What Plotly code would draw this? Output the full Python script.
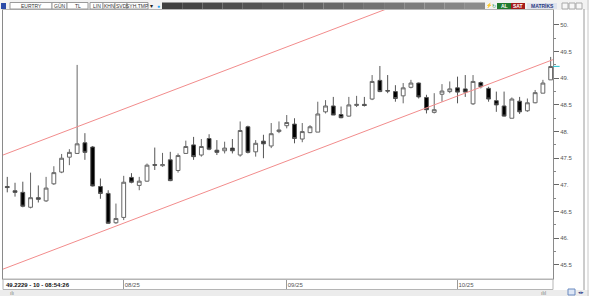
import plotly.graph_objects as go
import pandas as pd

# ---------------- data ----------------
dates = [d.strftime("%Y-%m-%d") for d in pd.bdate_range("2025-07-11", "2025-10-17")]
opens = [46.97, 46.89, 46.86, 46.58, 46.76, 46.70, 47.02, 47.24, 47.52, 47.59,
         47.79, 47.71, 46.97, 46.84, 46.29, 46.39, 47.14, 46.99, 47.07, 47.38,
         47.36, 47.47, 47.27, 47.59, 47.75, 47.56, 47.87, 47.65, 47.64, 47.69,
         47.56, 48.09, 47.62, 47.82, 47.73, 48.00, 48.11, 48.14, 47.86, 47.98,
         47.99, 48.37, 48.48, 48.32, 48.29, 48.49, 48.51, 48.61, 48.96, 48.77,
         48.75, 48.67, 48.83, 48.91, 48.64, 48.36, 48.70, 48.75, 48.82, 48.80,
         48.52, 48.92, 48.81, 48.58, 48.48, 48.25, 48.57, 48.39, 48.54, 48.72,
         48.97]
highs = [47.15, 47.04, 47.06, 47.23, 46.99, 47.15, 47.35, 47.58, 47.67, 49.25,
         47.97, 47.73, 47.12, 46.90, 46.65, 47.17, 47.22, 47.15, 47.40, 47.70,
         47.60, 47.62, 47.59, 47.83, 47.90, 47.86, 47.95, 47.84, 47.81, 47.86,
         48.19, 48.11, 47.84, 47.94, 48.16, 48.19, 48.31, 48.25, 48.16, 48.12,
         48.56, 48.59, 48.65, 48.47, 48.65, 48.67, 48.65, 49.06, 49.23, 49.06,
         48.87, 48.91, 48.97, 48.92, 48.69, 48.72, 48.89, 48.94, 49.03, 49.06,
         49.06, 48.94, 48.84, 48.75, 48.75, 48.64, 48.65, 48.62, 48.78, 48.97,
         49.40]
lows = [46.86, 46.78, 46.58, 46.56, 46.67, 46.68, 47.00, 47.22, 47.37, 47.58,
        47.47, 46.97, 46.74, 46.27, 46.27, 46.34, 47.03, 46.90, 47.06, 47.28,
        47.34, 47.07, 47.23, 47.59, 47.47, 47.53, 47.65, 47.56, 47.59, 47.59,
        47.53, 47.59, 47.53, 47.50, 47.69, 47.97, 48.06, 47.78, 47.80, 47.97,
        47.99, 48.34, 48.31, 48.25, 48.28, 48.46, 48.47, 48.59, 48.74, 48.72,
        48.56, 48.53, 48.81, 48.62, 48.34, 48.34, 48.56, 48.72, 48.53, 48.65,
        48.50, 48.81, 48.56, 48.37, 48.28, 48.25, 48.33, 48.37, 48.53, 48.72,
        48.97]
closes = [46.95, 46.86, 46.60, 46.76, 46.73, 46.94, 47.23, 47.50, 47.61, 47.77,
          47.61, 46.98, 46.84, 46.28, 46.37, 47.05, 47.05, 47.07, 47.37, 47.37,
          47.38, 47.08, 47.55, 47.72, 47.53, 47.72, 47.67, 47.61, 47.69, 47.64,
          48.02, 47.61, 47.78, 47.77, 47.96, 48.03, 48.17, 47.87, 48.00, 48.09,
          48.33, 48.48, 48.31, 48.26, 48.50, 48.51, 48.49, 48.94, 48.75, 48.76,
          48.62, 48.82, 48.91, 48.65, 48.41, 48.41, 48.76, 48.80, 48.74, 48.74,
          48.94, 48.84, 48.61, 48.50, 48.29, 48.61, 48.37, 48.54, 48.73, 48.91,
          49.22]

month_starts = ["2025-08-01", "2025-09-01", "2025-10-01"]
month_labels = ["08/25", "09/25", "10/25"]

y_tickvals = [45.5, 46.0, 46.5, 47.0, 47.5, 48.0, 48.5, 49.0, 49.5, 50.0]
y_ticktext = ["45.5", "46.", "46.5", "47.", "47.5", "48.", "48.5", "49.", "49.5", "50."]

# trend channel (index, price) endpoints
channel_x = [-0.55, 70.5]
channel_lower = [45.42, 49.36]
channel_upper = [47.56, 51.50]

last_price = 49.2229
status_text = "49.2229 - 10 - 08:54:26"

toolbar_items = ["EURTRY", "GÜN", "TL", "LIN", "KHN", "SVD", "SYH.TMP"]

# ---------------- figure ----------------
idx = list(range(len(dates)))
W, H = 589, 296
ML, MR, MT, MB = 3, 36, 10, 17
PW, PH = W - ML - MR, H - MT - MB


def px(x):
    return (x - ML) / PW


def py(y):
    return (H - MB - y) / PH


fig = go.Figure()

fig.add_trace(go.Scatter(x=channel_x, y=channel_lower, mode="lines",
                         line=dict(color="#f28c8c", width=1), hoverinfo="skip", showlegend=False))
fig.add_trace(go.Scatter(x=channel_x, y=channel_upper, mode="lines",
                         line=dict(color="#f28c8c", width=1), hoverinfo="skip", showlegend=False))

fig.add_trace(go.Candlestick(
    x=idx, open=opens, high=highs, low=lows, close=closes,
    increasing=dict(line=dict(color="#666666", width=1), fillcolor="#ffffff"),
    decreasing=dict(line=dict(color="#555555", width=1), fillcolor="#000000"),
    whiskerwidth=0, showlegend=False, hoverinfo="skip"))

tickvals_x = [dates.index(d) for d in month_starts]

fig.update_layout(
    width=W, height=H, autosize=False,
    margin=dict(l=ML, r=MR, t=MT, b=MB),
    paper_bgcolor="#ffffff", plot_bgcolor="#ffffff",
    showlegend=False,
    font=dict(family="Arial, Liberation Sans, sans-serif", size=6, color="#555555"),
    xaxis=dict(range=[-0.55, 70.3], rangeslider=dict(visible=False),
               showgrid=False, zeroline=False,
               showline=True, linecolor="#b5b5b5", linewidth=1, mirror=True,
               tickvals=tickvals_x, ticktext=month_labels,
               ticks="outside", ticklen=9, tickcolor="#9a9a9a",
               ticklabelposition="outside right",
               tickfont=dict(size=6, color="#555555")),
    yaxis=dict(range=[45.235, 50.28], side="right",
               showgrid=False, zeroline=False,
               showline=True, linecolor="#8a8a8a", linewidth=1, mirror=True,
               tickvals=y_tickvals, ticktext=y_ticktext,
               ticks="outside", ticklen=5, tickcolor="#666666",
               minor=dict(tickvals=[v + 0.25 for v in y_tickvals if v < 50], ticks="outside", ticklen=2,
                          tickcolor="#888888"),
               tickfont=dict(size=6, color="#555555")),
)

shapes = []
annos = []

# last price marker on axis
shapes.append(dict(type="line", xref="paper", yref="y", x0=1.0, x1=1.012,
                   y0=last_price, y1=last_price, line=dict(color="#22c0d0", width=1)))

# right outer frame line
shapes.append(dict(type="line", xref="paper", yref="paper", x0=px(584), x1=px(584),
                   y0=py(290), y1=py(9), line=dict(color="#9a9a9a", width=1)))
shapes.append(dict(type="line", xref="paper", yref="paper", x0=px(588), x1=px(588),
                   y0=py(296), y1=py(0), line=dict(color="#c8c8c8", width=1)))

# bottom status bar
shapes.append(dict(type="rect", xref="paper", yref="paper", x0=px(3), x1=px(553),
                   y0=py(289.5), y1=py(279), line=dict(color="#b5b5b5", width=1),
                   fillcolor="rgba(0,0,0,0)", layer="below"))
shapes.append(dict(type="rect", xref="paper", yref="paper", x0=px(0), x1=px(589),
                   y0=py(296), y1=py(290), line=dict(width=0), fillcolor="#ececec", layer="below"))
annos.append(dict(xref="paper", yref="paper", x=px(4), y=py(284.5), text="<b>" + status_text + "</b>",
                  showarrow=False, xanchor="left", yanchor="middle",
                  font=dict(size=6, color="#111111")))
annos.append(dict(xref="paper", yref="paper", x=px(8), y=py(293), text="ılı",
                  showarrow=False, xanchor="left", yanchor="middle",
                  font=dict(size=5, color="#777777")))
annos.append(dict(xref="paper", yref="paper", x=px(548), y=py(293), text="ılıl",
                  showarrow=False, xanchor="right", yanchor="middle",
                  font=dict(size=5, color="#777777")))
shapes.append(dict(type="rect", xref="paper", yref="paper", x0=px(568), x1=px(575),
                   y0=py(295), y1=py(289), line=dict(color="#6a8ac0", width=1), fillcolor="#dde6f5"))
annos.append(dict(xref="paper", yref="paper", x=px(576), y=py(292), text="◂▸",
                  showarrow=False, xanchor="left", yanchor="middle",
                  font=dict(size=5, color="#33448a")))

# top toolbar
shapes.append(dict(type="rect", xref="paper", yref="paper", x0=px(0), x1=px(589),
                   y0=py(10), y1=py(0), line=dict(width=0), fillcolor="#f2f2f2", layer="below"))
shapes.append(dict(type="rect", xref="paper", yref="paper", x0=px(1), x1=px(6),
                   y0=py(9), y1=py(3), line=dict(width=0), fillcolor="#2a4aa8"))
box_edges = [10, 52, 67, 90, 103, 115, 127, 148]
for i, label in enumerate(toolbar_items):
    x0, x1 = box_edges[i], box_edges[i + 1]
    if label == "TL":
        x1 = 88
    shapes.append(dict(type="rect", xref="paper", yref="paper", x0=px(x0), x1=px(x1),
                       y0=py(9), y1=py(2.5), line=dict(color="#9a9a9a", width=1), fillcolor="#ffffff"))
    annos.append(dict(xref="paper", yref="paper", x=px((x0 + x1) / 2), y=py(5.8), text=label,
                      showarrow=False, xanchor="center", yanchor="middle",
                      font=dict(size=5, color="#333333")))
annos.append(dict(xref="paper", yref="paper", x=px(151), y=py(5.8), text="▾",
                  showarrow=False, xanchor="center", yanchor="middle", font=dict(size=6, color="#222222")))
annos.append(dict(xref="paper", yref="paper", x=px(158), y=py(5.8), text="●",
                  showarrow=False, xanchor="center", yanchor="middle", font=dict(size=5, color="#1da1f2")))
# gradient bar
n_seg = 16
gx0, gx1 = 162, 485
for k in range(n_seg):
    t = k / (n_seg - 1)
    c = int(0x40 + t * (0x8c - 0x40))
    shapes.append(dict(type="rect", xref="paper", yref="paper",
                       x0=px(gx0 + (gx1 - gx0) * k / n_seg), x1=px(gx0 + (gx1 - gx0) * (k + 1) / n_seg),
                       y0=py(9), y1=py(2.5), line=dict(width=0),
                       fillcolor="rgb(%d,%d,%d)" % (c, c, c)))
annos.append(dict(xref="paper", yref="paper", x=px(489), y=py(5.8), text="⚡",
                  showarrow=False, xanchor="center", yanchor="middle", font=dict(size=5, color="#e8a000")))
annos.append(dict(xref="paper", yref="paper", x=px(494), y=py(5.8), text="↻",
                  showarrow=False, xanchor="center", yanchor="middle", font=dict(size=5, color="#2a9a4a")))
shapes.append(dict(type="rect", xref="paper", yref="paper", x0=px(497), x1=px(511),
                   y0=py(9), y1=py(3), line=dict(width=0), fillcolor="#1f7a2e"))
annos.append(dict(xref="paper", yref="paper", x=px(504), y=py(6), text="<b>AL</b>",
                  showarrow=False, xanchor="center", yanchor="middle", font=dict(size=5, color="#ffffff")))
shapes.append(dict(type="rect", xref="paper", yref="paper", x0=px(511), x1=px(525),
                   y0=py(9), y1=py(3), line=dict(width=0), fillcolor="#a51b1b"))
annos.append(dict(xref="paper", yref="paper", x=px(518), y=py(6), text="<b>SAT</b>",
                  showarrow=False, xanchor="center", yanchor="middle", font=dict(size=5, color="#ffffff")))
shapes.append(dict(type="rect", xref="paper", yref="paper", x0=px(527), x1=px(557),
                   y0=py(9), y1=py(3), line=dict(width=0), fillcolor="#dfe3ee"))
annos.append(dict(xref="paper", yref="paper", x=px(542), y=py(6), text="<b>MATRİKS</b>",
                  showarrow=False, xanchor="center", yanchor="middle", font=dict(size=5, color="#2a3a80")))
for bx in [562, 569, 576]:
    shapes.append(dict(type="rect", xref="paper", yref="paper", x0=px(bx), x1=px(bx + 6),
                       y0=py(9), y1=py(3), line=dict(color="#aaaaaa", width=1), fillcolor="#f7f7f7"))

fig.update_layout(shapes=shapes, annotations=annos)

fig.write_html("out.html")
